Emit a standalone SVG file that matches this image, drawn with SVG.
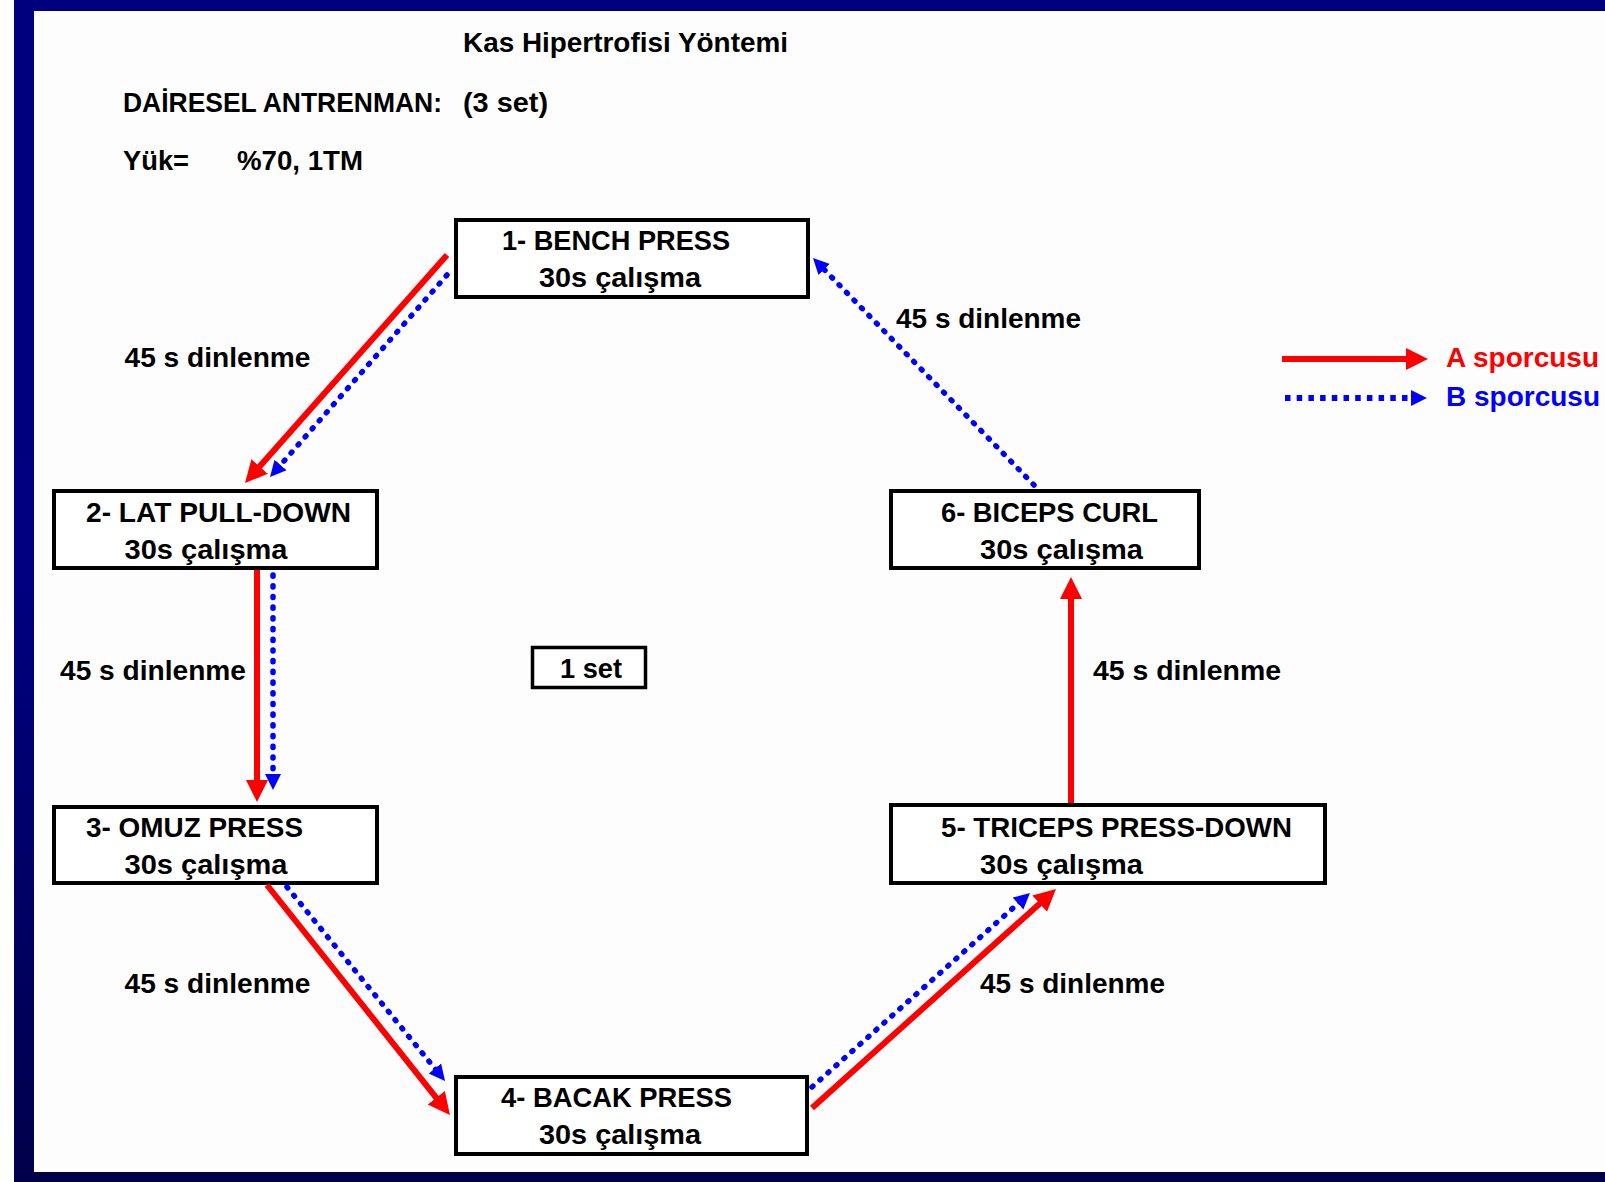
<svg xmlns="http://www.w3.org/2000/svg" width="1605" height="1182" viewBox="0 0 1605 1182">
<defs>
<linearGradient id="navy" x1="0" y1="0" x2="0" y2="1">
<stop offset="0" stop-color="#00007E"/>
<stop offset="0.5" stop-color="#000080"/>
<stop offset="1" stop-color="#00004A"/>
</linearGradient>
<marker id="ahRed" markerUnits="userSpaceOnUse" markerWidth="24" markerHeight="24" viewBox="0 -12 24 24" refX="10" refY="0" orient="auto">
<path d="M0,-11 L22,0 L0,11 z" fill="#FF0000"/>
</marker>
<marker id="ahBlue" markerUnits="userSpaceOnUse" markerWidth="18" markerHeight="18" viewBox="0 -9 18 18" refX="6" refY="0" orient="auto">
<path d="M0,-8 L16,0 L0,8 z" fill="#0000FF"/>
</marker>
</defs>
<style>
.box{fill:#FFFFFF;stroke:#000000;stroke-width:4}
.t{font-family:"Liberation Sans",Arial,sans-serif;font-weight:bold;font-size:28px;fill:#000000}
.a{fill:none;stroke:#FF0000;stroke-width:6;marker-end:url(#ahRed)}
.b{fill:none;stroke:#0000FF;stroke-width:5.5;stroke-dasharray:1.2 9.5;stroke-linecap:round;marker-end:url(#ahBlue)}
.bl{fill:none;stroke:#0000FF;stroke-width:6;stroke-dasharray:5.5 6.2;stroke-linecap:butt;marker-end:url(#ahBlue)}
</style>
<rect x="0" y="0" width="1605" height="1182" fill="#FFFFFF"/>
<rect x="14" y="0" width="1591" height="1182" fill="url(#navy)"/>
<rect x="34" y="11" width="1571" height="1161" fill="#FDFDFD"/>

<g id="header">
<text class="t" x="463" y="52" textLength="325" lengthAdjust="spacingAndGlyphs">Kas Hipertrofisi Yöntemi</text>
<text class="t" x="123" y="112" textLength="319" lengthAdjust="spacingAndGlyphs">DAİRESEL ANTRENMAN:</text>
<text class="t" x="463" y="112" textLength="85" lengthAdjust="spacingAndGlyphs">(3 set)</text>
<text class="t" x="123" y="170" textLength="66" lengthAdjust="spacingAndGlyphs">Yük=</text>
<text class="t" x="237" y="170" textLength="126" lengthAdjust="spacingAndGlyphs">%70, 1TM</text>
</g>

<g id="node1">
<rect class="box" x="456" y="220" width="352" height="77"/>
<text class="t" x="502" y="250" textLength="228" lengthAdjust="spacingAndGlyphs">1- BENCH PRESS</text>
<text class="t" x="539" y="287" textLength="162" lengthAdjust="spacingAndGlyphs">30s çalışma</text>
</g>
<g id="node2">
<rect class="box" x="54" y="491" width="323" height="77"/>
<text class="t" x="86" y="522" textLength="265" lengthAdjust="spacingAndGlyphs">2- LAT PULL-DOWN</text>
<text class="t" x="124.5" y="559" textLength="163" lengthAdjust="spacingAndGlyphs">30s çalışma</text>
</g>
<g id="node3">
<rect class="box" x="54" y="807" width="323" height="76"/>
<text class="t" x="86" y="837" textLength="217" lengthAdjust="spacingAndGlyphs">3- OMUZ PRESS</text>
<text class="t" x="124.5" y="874" textLength="163" lengthAdjust="spacingAndGlyphs">30s çalışma</text>
</g>
<g id="node4">
<rect class="box" x="456" y="1077" width="351" height="77"/>
<text class="t" x="501" y="1107" textLength="231" lengthAdjust="spacingAndGlyphs">4- BACAK PRESS</text>
<text class="t" x="539" y="1144" textLength="162" lengthAdjust="spacingAndGlyphs">30s çalışma</text>
</g>
<g id="node5">
<rect class="box" x="891" y="805" width="434" height="78"/>
<text class="t" x="941" y="837" textLength="351" lengthAdjust="spacingAndGlyphs">5- TRICEPS PRESS-DOWN</text>
<text class="t" x="980" y="874" textLength="163" lengthAdjust="spacingAndGlyphs">30s çalışma</text>
</g>
<g id="node6">
<rect class="box" x="891" y="491" width="308" height="77"/>
<text class="t" x="941" y="522" textLength="217" lengthAdjust="spacingAndGlyphs">6- BICEPS CURL</text>
<text class="t" x="980" y="559" textLength="163" lengthAdjust="spacingAndGlyphs">30s çalışma</text>
</g>
<g id="set-label">
<rect x="532.5" y="647.5" width="113" height="40" fill="#FFFFFF" stroke="#000000" stroke-width="3.5"/>
<text class="t" x="560" y="678" textLength="62" lengthAdjust="spacingAndGlyphs">1 set</text>
</g>

<g id="connectors">
<path class="a" d="M447,255 L253,474"/>
<path class="b" d="M447,275 L276.6,469.5"/>
<path class="a" d="M257,570 L257,790"/>
<path class="b" d="M273,575 L273,780"/>
<path class="a" d="M267,885 L442.5,1105.6"/>
<path class="b" d="M287,887 L438.7,1073.2"/>
<path class="a" d="M812,1108 L1047.1,897"/>
<path class="b" d="M812,1087 L1022.5,899.6"/>
<path class="a" d="M1071,803 L1071,589"/>
<path class="b" d="M1034,485 L820,265.2"/>
<text class="t" x="124.5" y="367" textLength="186" lengthAdjust="spacingAndGlyphs">45 s dinlenme</text>
<text class="t" x="60" y="680" textLength="186" lengthAdjust="spacingAndGlyphs">45 s dinlenme</text>
<text class="t" x="124.5" y="993" textLength="186" lengthAdjust="spacingAndGlyphs">45 s dinlenme</text>
<text class="t" x="980" y="993" textLength="185" lengthAdjust="spacingAndGlyphs">45 s dinlenme</text>
<text class="t" x="1093" y="680" textLength="188" lengthAdjust="spacingAndGlyphs">45 s dinlenme</text>
<text class="t" x="896" y="328" textLength="185" lengthAdjust="spacingAndGlyphs">45 s dinlenme</text>
</g>

<g id="legend">
<path class="a" d="M1282,359 L1416,359"/>
<path class="bl" d="M1285,398 L1417,398"/>
<text class="t" x="1446" y="367" style="fill:#FF0000">A sporcusu</text>
<text class="t" x="1446" y="406" style="fill:#0000FF">B sporcusu</text>
</g>
</svg>
